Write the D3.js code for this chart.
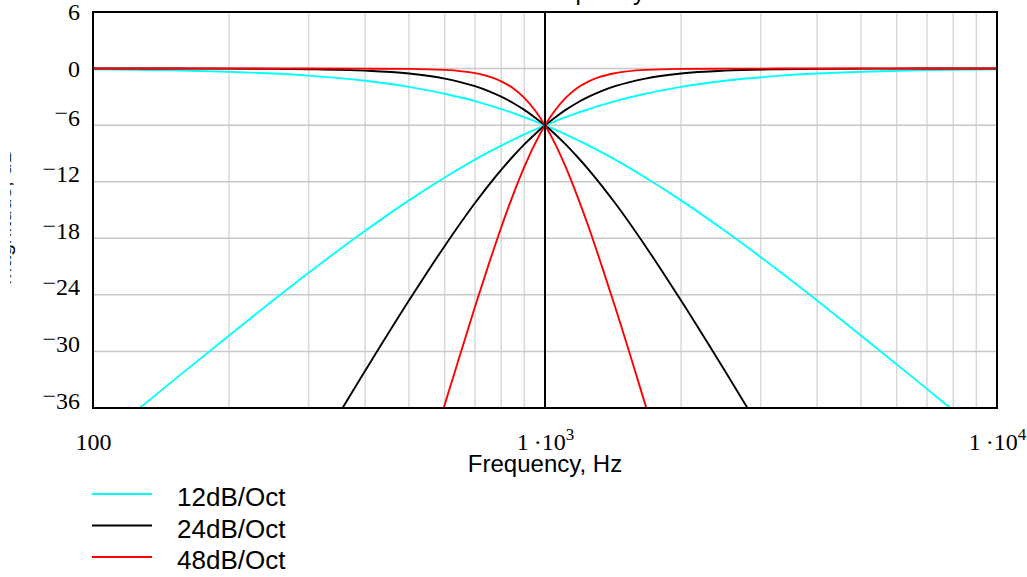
<!DOCTYPE html>
<html><head><meta charset="utf-8">
<script src="https://cdn.jsdelivr.net/npm/d3@7/dist/d3.min.js"></script>
<style>
html,body{margin:0;padding:0;background:#fff;overflow:hidden}
svg{display:block}
</style></head>
<body><svg id="c" width="1027" height="577"></svg>
<script>
// ---- data ----
const freqs = [100,125,150,200,250,300,400,500,600,700,750,800,850,900,950,1000,1053,1111,1176,1250,1333,1429,1667,2000,2500,3333,4000,5000,6667,8000,10000];
const lp12 = [-0.09,-0.14,-0.19,-0.34,-0.53,-0.75,-1.29,-1.94,-2.67,-3.46,-3.88,-4.30,-4.72,-5.15,-5.59,-6.02,-6.48,-6.98,-7.55,-8.17,-8.87,-9.66,-11.55,-13.98,-17.21,-21.66,-24.61,-28.30,-33.15,-36.26,-40.09];
const hp12 = [-40.09,-36.26,-33.15,-28.30,-24.61,-21.66,-17.21,-13.98,-11.55,-9.66,-8.87,-8.17,-7.55,-6.98,-6.48,-6.02,-5.59,-5.15,-4.72,-4.30,-3.88,-3.46,-2.67,-1.94,-1.29,-0.75,-0.53,-0.34,-0.19,-0.14,-0.09];
const lp24 = [0,0,0,-0.01,-0.03,-0.07,-0.22,-0.53,-1.06,-1.87,-2.39,-2.98,-3.65,-4.38,-5.18,-6.02,-6.96,-8.04,-9.30,-10.74,-12.38,-14.26,-18.81,-24.61,-32.06,-41.90,null,null,null,null,null];
const hp24 = [null,null,null,null,null,-41.90,-32.06,-24.61,-18.81,-14.26,-12.38,-10.74,-9.30,-8.04,-6.96,-6.02,-5.18,-4.38,-3.65,-2.98,-2.39,-1.87,-1.06,-0.53,-0.22,-0.07,-0.03,-0.01,0,0,0];
const lp48 = [0,0,0,0,0,0,-0.01,-0.03,-0.14,-0.49,-0.83,-1.35,-2.09,-3.11,-4.42,-6.02,-7.98,-10.43,-13.39,-16.85,-20.82,-25.27,-35.64,-48.2,null,null,null,null,null,null,null];
const hp48 = [null,null,null,null,null,null,null,-48.2,-35.64,-25.27,-20.82,-16.85,-13.39,-10.43,-7.98,-6.02,-4.42,-3.11,-2.09,-1.35,-0.83,-0.49,-0.14,-0.03,-0.01,0,0,0,0,0,0];
const seriesNames = ["12dB/Oct","24dB/Oct","48dB/Oct"];
const seriesColors = ["#00ffff","#000000","#ff0000"];
const yTicks = [6,0,-6,-12,-18,-24,-30,-36];
const xTicks = [100,1000,10000];
const xTickBase = ["100","1\u2009\u00b710","1\u2009\u00b710"];
const xTickExp = ["","3","4"];
const xGrid = [200,300,400,500,600,700,800,900,2000,3000,4000,5000,6000,7000,8000,9000];
const xLabel = "Frequency, Hz";
const yLabel = "Magnitude, dB";
const title = "Frequency";

// ---- layout ----
const L=93, R=997, T=12, B=408;
const svg = d3.select("#c");
const x = d3.scaleLog().domain([100,10000]).range([L,R]);
const y = d3.scaleLinear().domain([-36,6]).range([B,T]);

const defs = svg.append("defs");
defs.append("clipPath").attr("id","plot")
  .append("rect").attr("x",L).attr("y",T).attr("width",R-L).attr("height",B-T);
defs.append("clipPath").attr("id","ylab")
  .append("rect").attr("x",10.2).attr("y",0).attr("width",12).attr("height",577);

// grid
svg.append("g").selectAll("line").data(xGrid).join("line")
  .attr("x1",d=>x(d)).attr("x2",d=>x(d)).attr("y1",T).attr("y2",B)
  .attr("stroke","#d9d9d9").attr("stroke-width",1.5);
svg.append("g").selectAll("line").data(yTicks.filter(v=>v<6&&v>-36)).join("line")
  .attr("x1",L).attr("x2",R).attr("y1",d=>y(d)).attr("y2",d=>y(d))
  .attr("stroke","#c8c8c8").attr("stroke-width",1.5);

// curves
const pairs = [[lp12,hp12],[lp24,hp24],[lp48,hp48]];
const line = d3.line().defined(d=>d[1]!==null).x(d=>x(d[0])).y(d=>y(d[1])).curve(d3.curveMonotoneX);
const gc = svg.append("g").attr("clip-path","url(#plot)");
pairs.forEach((p,i)=>{
  p.forEach(arr=>{
    gc.append("path").datum(freqs.map((f,j)=>[f,arr[j]]))
      .attr("d",line).attr("fill","none").attr("stroke",seriesColors[i])
      .attr("stroke-width",1.9).attr("stroke-linejoin","round");
  });
});

// marker line at 1k and border
svg.append("line").attr("x1",x(1000)).attr("x2",x(1000)).attr("y1",T).attr("y2",B)
  .attr("stroke","#000").attr("stroke-width",2);
svg.append("rect").attr("x",L).attr("y",T).attr("width",R-L).attr("height",B-T)
  .attr("fill","none").attr("stroke","#000").attr("stroke-width",2);

// y axis labels
const ya = svg.append("g").attr("transform",`translate(${L},0)`)
  .call(d3.axisLeft(y).tickValues(yTicks).tickSize(0).tickPadding(13).tickFormat(d=>d));
ya.select(".domain").remove();
ya.selectAll("text").each(function(d){
  const t=d3.select(this); t.text(null)
    .attr("font-family","'Liberation Serif',serif").attr("font-size",24).attr("fill","#000");
  if(d<0){
    t.append("tspan").text("\u2212").attr("dy","-0.2em");
    t.append("tspan").text(Math.abs(d)).attr("dy","0.2em");
  } else t.append("tspan").text(d);
});

// x axis labels
const xa = svg.append("g").attr("transform",`translate(0,${B})`)
  .call(d3.axisBottom(x).tickValues(xTicks).tickSize(0).tickPadding(25).tickFormat((d,i)=>xTickBase[i]));
xa.select(".domain").remove();
xa.selectAll("text").each(function(d,i){
  const t=d3.select(this);
  t.attr("font-family","'Liberation Serif',serif").attr("font-size",24).attr("fill","#000");
  if(xTickExp[i]){
    t.attr("text-anchor","middle");
    t.append("tspan").text(xTickExp[i]).attr("font-size",17).attr("dy","-0.6em");
  }
});

// axis titles
svg.append("text").attr("x",x(1000)).attr("y",472).attr("text-anchor","middle")
  .attr("font-family","'Liberation Sans',Arial,sans-serif").attr("font-size",24).text(xLabel);
svg.append("g").attr("clip-path","url(#ylab)").append("text")
  .attr("transform","translate(10.5,285) rotate(-90)")
  .attr("font-family","'Liberation Sans',Arial,sans-serif").attr("font-size",21).attr("fill","#000").text(yLabel);
svg.append("text").attr("x",645).attr("y",0).attr("text-anchor","end")
  .attr("font-family","'Liberation Sans',Arial,sans-serif").attr("font-size",24).text(title);

// legend
const lg = svg.append("g");
seriesNames.forEach((n,i)=>{
  const yy = 494 + i*31.5;
  lg.append("line").attr("x1",92).attr("x2",152).attr("y1",yy).attr("y2",yy)
    .attr("stroke",seriesColors[i]).attr("stroke-width",2);
  lg.append("text").attr("x",177).attr("y",yy+12)
    .attr("font-family","'Liberation Sans',Arial,sans-serif").attr("font-size",26).text(n);
});
</script></body></html>
